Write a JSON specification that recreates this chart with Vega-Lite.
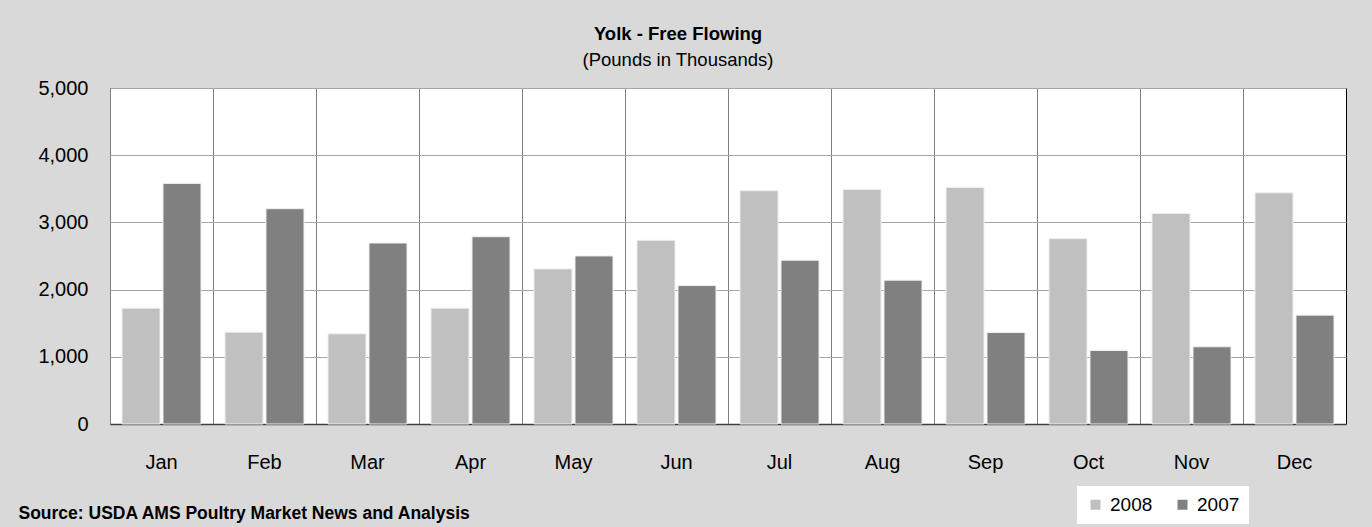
{
  "$schema": "https://vega.github.io/schema/vega-lite/v6.json",
  "autosize": {"type": "none"},
  "padding": {"left": 110, "top": 88, "right": 26, "bottom": 103},
  "width": 1236,
  "height": 336,
  "background": "#d9d9d9",
  "title": {
    "text": "Yolk - Free Flowing",
    "subtitle": "(Pounds in Thousands)",
    "anchor": "middle",
    "frame": "group",
    "dx": -50,
    "offset": 9,
    "fontSize": 18.5,
    "fontWeight": "bold",
    "color": "#000000",
    "subtitleFontSize": 18.5,
    "subtitleColor": "#000000",
    "subtitlePadding": 7
  },
  "data": {
    "values": [
      {"month": "Jan", "year": "2008", "value": 1724},
      {"month": "Jan", "year": "2007", "value": 3580},
      {"month": "Feb", "year": "2008", "value": 1367},
      {"month": "Feb", "year": "2007", "value": 3204},
      {"month": "Mar", "year": "2008", "value": 1342},
      {"month": "Mar", "year": "2007", "value": 2693},
      {"month": "Apr", "year": "2008", "value": 1724},
      {"month": "Apr", "year": "2007", "value": 2787},
      {"month": "May", "year": "2008", "value": 2308},
      {"month": "May", "year": "2007", "value": 2501},
      {"month": "Jun", "year": "2008", "value": 2734},
      {"month": "Jun", "year": "2007", "value": 2060},
      {"month": "Jul", "year": "2008", "value": 3471},
      {"month": "Jul", "year": "2007", "value": 2437},
      {"month": "Aug", "year": "2008", "value": 3490},
      {"month": "Aug", "year": "2007", "value": 2140},
      {"month": "Sep", "year": "2008", "value": 3520},
      {"month": "Sep", "year": "2007", "value": 1361},
      {"month": "Oct", "year": "2008", "value": 2758},
      {"month": "Oct", "year": "2007", "value": 1094},
      {"month": "Nov", "year": "2008", "value": 3134},
      {"month": "Nov", "year": "2007", "value": 1149},
      {"month": "Dec", "year": "2008", "value": 3441},
      {"month": "Dec", "year": "2007", "value": 1620}
    ]
  },
  "mark": {"type": "bar", "stroke": "#eeeeee", "strokeWidth": 1},
  "encoding": {
    "x": {
      "field": "month",
      "type": "nominal",
      "sort": ["Jan","Feb","Mar","Apr","May","Jun","Jul","Aug","Sep","Oct","Nov","Dec"],
      "scale": {"paddingInner": 0, "paddingOuter": 0},
      "axis": {
        "title": "Source: USDA AMS Poultry Market News and Analysis",
        "titleX": -92,
        "titleY": 94,
        "titleAlign": "left",
        "titleAnchor": "start",
        "titleBaseline": "alphabetic",
        "titleFontSize": 17.5,
        "titleFontWeight": "bold",
        "titleColor": "#000000",
        "labelAngle": 0,
        "labelFontSize": 20,
        "labelColor": "#000000",
        "labelPadding": 28,
        "labelBaseline": "top",
        "ticks": false,
        "bandPosition": 0,
        "grid": true,
        "gridColor": "#808080",
        "gridWidth": 1,
        "domain": true,
        "domainColor": "#404040",
        "domainWidth": 1.5
      }
    },
    "xOffset": {
      "field": "year",
      "type": "nominal",
      "scale": {"domain": ["2008", "2007"], "paddingInner": 0.073, "paddingOuter": 0.293}
    },
    "y": {
      "field": "value",
      "type": "quantitative",
      "scale": {"domain": [0, 5000], "nice": false},
      "axis": {
        "title": null,
        "values": [0, 1000, 2000, 3000, 4000, 5000],
        "format": ",d",
        "labelFontSize": 20,
        "labelColor": "#000000",
        "labelPadding": 22,
        "ticks": false,
        "domain": false,
        "grid": true,
        "gridColor": "#a6a6a6",
        "gridWidth": 1
      }
    },
    "color": {
      "field": "year",
      "type": "nominal",
      "scale": {"domain": ["2008", "2007"], "range": ["#c0c0c0", "#808080"]},
      "legend": {
        "title": null,
        "orient": "none",
        "direction": "horizontal",
        "legendX": 967,
        "legendY": 398,
        "fillColor": "#ffffff",
        "padding": 9,
        "symbolType": "square",
        "symbolSize": 100,
        "symbolStrokeWidth": 0,
        "labelFontSize": 19,
        "labelColor": "#000000",
        "labelOffset": 5,
        "columnPadding": 20
      }
    }
  },
  "config": {
    "font": "Liberation Sans",
    "view": {"fill": "#ffffff", "stroke": "#000000", "strokeWidth": 1}
  }
}
